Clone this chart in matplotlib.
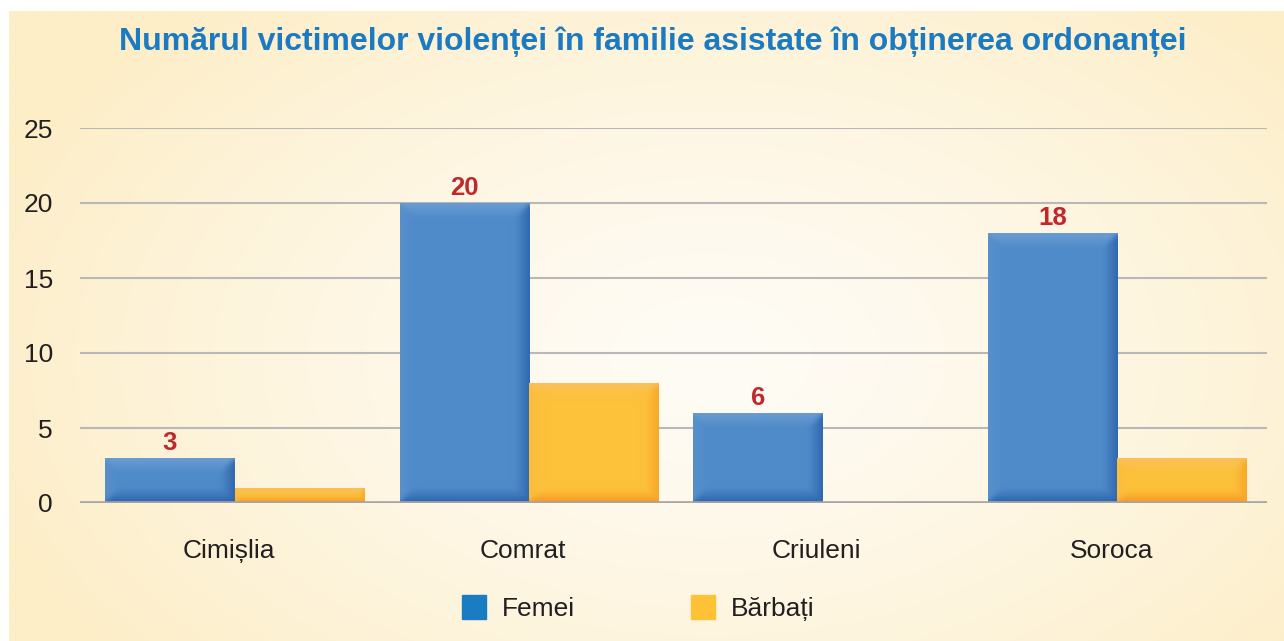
import numpy as np
import matplotlib
matplotlib.use("Agg")
import matplotlib.pyplot as plt
from matplotlib.lines import Line2D
from matplotlib.transforms import ScaledTranslation

plt.rcParams['font.family'] = ['Liberation Sans', 'DejaVu Sans']

# ---- data ----
categories = ["Cimișlia", "Comrat", "Criuleni", "Soroca"]
femei = [3, 20, 6, 18]
barbati = [1, 8, 0, 3]
series_names = ["Femei", "Bărbați"]
title = "Numărul victimelor violenței în familie asistate în obținerea ordonanței"
yticks = [0, 5, 10, 15, 20, 25]

W, H = 1284, 641
fig = plt.figure(figsize=(W / 100, H / 100), dpi=100)
fig.patch.set_facecolor("white")

# background panel with radial gradient
bg_ax = fig.add_axes([9 / W, 0, (W - 9) / W, (H - 11) / H], zorder=-10)
bg_ax.set_axis_off()
ny, nx = 300, 600
yy, xx = np.mgrid[0:ny, 0:nx]
cx, cy = nx * 0.55, ny * 0.55
r = np.sqrt(((xx - cx) / (nx * 0.6)) ** 2 + ((yy - cy) / (ny * 0.75)) ** 2)
r = np.clip(r, 0, 1)
c_in = np.array([255, 252, 246]) / 255
c_out = np.array([253, 238, 200]) / 255
t = r[..., None] ** 1.3
bg = c_in * (1 - t) + c_out * t
bg_ax.imshow(bg, aspect="auto", extent=(0, 1, 0, 1), interpolation="bilinear")
bg_ax.set_xlim(0, 1)
bg_ax.set_ylim(0, 1)

# main axes
x0, x1 = 80, 1267
y_zero, y_top = 503, 128
ax = fig.add_axes([x0 / W, (H - y_zero) / H, (x1 - x0) / W, (y_zero - y_top) / H])
ax.patch.set_alpha(0)
for s in ax.spines.values():
    s.set_visible(False)
ax.set_yticks(yticks)
ax.tick_params(axis="y", length=0, pad=19.5, labelsize=19, labelcolor="#231f20")
ax.tick_params(axis="x", length=0, pad=26, labelsize=19, labelcolor="#231f20")
for yv in yticks[1:]:
    ax.axhline(yv, color="#b8b8b8", lw=1.5, zorder=0)
ax.axhline(0, color="#a5a5a5", lw=2.6, zorder=3)

bw = 0.44
xpos = np.array([0, 1, 1.997, 2.997])
ax.set_xticks(xpos)
ax.set_xticklabels(categories)
for lab in ax.get_xticklabels():
    lab.set_transform(lab.get_transform() + ScaledTranslation(-6 / 100, 0, fig.dpi_scale_trans))

b1 = ax.bar(xpos - bw / 2, femei, bw, color="#4f8bc9", zorder=2)
b2 = ax.bar(xpos + bw / 2, barbati, bw, color="#fdc13a", zorder=2)
ax.set_xlim(-0.525, 3.505)
ax.set_ylim(0, 25)


def hexrgb(h):
    h = h.lstrip("#")
    return np.array([int(h[i:i + 2], 16) for i in (0, 2, 4)]) / 255


def blur(img, s):
    rad = int(3 * s)
    k = np.exp(-0.5 * (np.arange(-rad, rad + 1) / s) ** 2)
    k /= k.sum()
    out = img.copy()
    # along x
    p = np.pad(out, ((0, 0), (rad, rad), (0, 0)), mode="edge")
    out = sum(k[i] * p[:, i:i + out.shape[1]] for i in range(len(k)))
    p = np.pad(out, ((rad, rad), (0, 0), (0, 0)), mode="edge")
    out = sum(k[i] * p[i:i + out.shape[0]] for i in range(len(k)))
    return out


def bevel(bar, base, top, bottom, left, right, bw_px=15):
    h = bar.get_height()
    if h <= 0:
        return
    bx, bwid = bar.get_x(), bar.get_width()
    p0 = ax.transData.transform((bx, 0))
    p1 = ax.transData.transform((bx + bwid, h))
    wp = max(int(round(p1[0] - p0[0])), 2)
    hp = max(int(round(p1[1] - p0[1])), 2)
    yy, xx = np.mgrid[0:hp, 0:wp] + 0.5
    d = np.stack([yy, hp - yy, xx, wp - xx])
    idx = np.argmin(d, axis=0)
    dmin = np.min(d, axis=0)
    b = min(bw_px, hp / 2.0)
    tt = np.clip(dmin / b, 0, 1) ** 0.9
    cols = np.array([hexrgb(top), hexrgb(bottom), hexrgb(left), hexrgb(right)])
    edge = cols[idx]
    base_c = hexrgb(base)
    img = edge * (1 - tt[..., None]) + base_c * tt[..., None]
    img = blur(img, 2.5)
    im = ax.imshow(img, extent=(bx, bx + bwid, 0, h), origin="upper",
                   aspect="auto", interpolation="bilinear", zorder=2.5)
    im.set_clip_path(bar)


for bar in b1:
    bevel(bar, "#4f8bc9", "#6c9ed3", "#2a5fa9", "#5890cb", "#2e65ae")
for bar in b2:
    bevel(bar, "#fdc13a", "#f9c15e", "#f7921d", "#fbbc40", "#f8a527", bw_px=13)

ax.set_xlim(-0.525, 3.505)
ax.set_ylim(0, 25)

# value labels on blue bars
for bar, v in zip(b1, femei):
    ax.annotate(str(v), (bar.get_x() + bar.get_width() / 2, v), xytext=(0, 6),
                textcoords="offset points", ha="center", va="baseline",
                fontsize=18.5, fontweight="bold", color="#c1272d", zorder=5)

# title
fig.text(0.508, 1 - 42 / H, title, ha="center", va="center", fontsize=23,
         fontweight="bold", color="#1b7bc2")

# legend
handles = [Line2D([], [], marker="s", ls="none", markersize=16.6, color="#1a7cc1"),
           Line2D([], [], marker="s", ls="none", markersize=16.6, color="#fdc236")]
leg = fig.legend(handles, series_names, loc="center", bbox_to_anchor=(0.497, 1 - 609 / H),
                 ncol=2, frameon=False, fontsize=19, handlelength=0.9,
                 handletextpad=0.6, columnspacing=4.4, labelcolor="#231f20")

fig.savefig("out.png", dpi=100, facecolor=fig.get_facecolor())
